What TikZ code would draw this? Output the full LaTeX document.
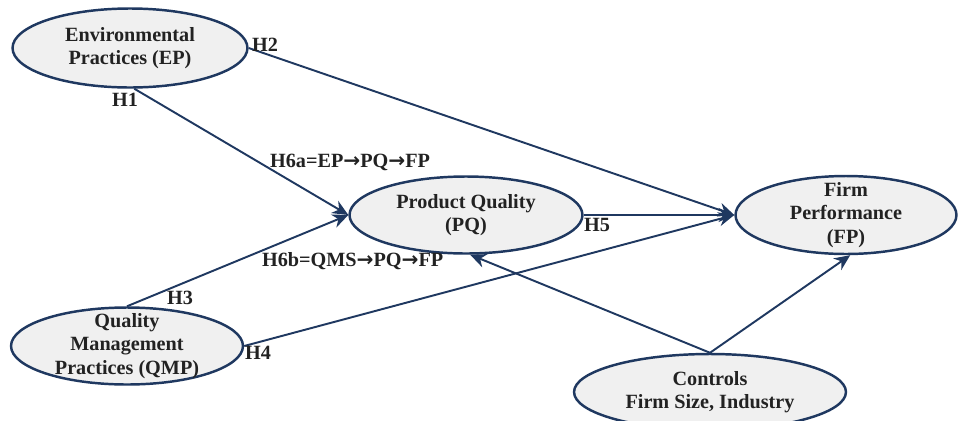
\documentclass[tikz,border=0pt]{standalone}
\usepackage{fontspec}
\setmainfont{Liberation Serif}
\newfontfamily\arrowfont{DejaVu Sans}
\usepackage{tikz}
\usetikzlibrary{arrows.meta,shapes.geometric}
\definecolor{linkblue}{RGB}{31,56,96}
\definecolor{softgray}{RGB}{240,240,240}
\definecolor{inkdark}{RGB}{34,34,34}
\newcommand{\hto}{{\arrowfont\bfseries→}}
\tikzset{construct/.style={ellipse, draw=linkblue, line width=1.4pt, fill=softgray, align=center, inner xsep=2pt, inner ysep=-8pt, text=inkdark, font=\fontsize{11.5}{13.2}\selectfont\bfseries}, rel/.style={-{Stealth[length=9pt,width=8pt]}, linkblue, line width=1.1pt}, hyp/.style={text=inkdark, inner sep=1pt, font=\fontsize{11.5}{13.2}\selectfont\bfseries}}

\begin{document}
\begin{tikzpicture}[x=0.02cm, y=-0.02cm]
\useasboundingbox (0,0) rectangle (960,420);
\node[construct, minimum width=4.7cm, minimum height=1.58cm] (ep) at (130,48) {Environmental\\Practices (EP)};
\node[construct, minimum width=4.66cm, minimum height=1.54cm] (pq) at (466,215) {Product Quality\\(PQ)};
\node[construct, minimum width=4.42cm, minimum height=1.56cm] (fp) at (846,215) {Firm\\Performance\\(FP)};
\node[construct, minimum width=4.64cm, minimum height=1.54cm] (qmp) at (127,346) {Quality\\Management\\Practices (QMP)};
\node[construct, minimum width=5.44cm, minimum height=1.52cm] (ctrl) at (710,392) {Controls\\Firm Size, Industry};
\draw[rel] (ep.-84) -- (pq.west);
\draw[rel] (ep.east) -- (fp.west);
\draw[rel] (qmp.north) -- (pq.west);
\draw[rel] (qmp.east) -- (fp.west);
\draw[rel] (pq.east) -- (fp.west);
\draw[rel] (ctrl.north) -- (pq.-84);
\draw[rel] (ctrl.north) -- (fp.-84);
\node[hyp] (h1) at (125,100) {H1};
\node[hyp] (h2) at (265,45) {H2};
\node[hyp] (h3) at (180,298) {H3};
\node[hyp] (h4) at (258,353) {H4};
\node[hyp] (h5) at (597,225) {H5};
\node[hyp, anchor=west] (h6a) at (268,162) {H6a=EP\hto PQ\hto FP};
\node[hyp, anchor=west] (h6b) at (260,261) {H6b=QMS\hto PQ\hto FP};
\end{tikzpicture}
\end{document}
